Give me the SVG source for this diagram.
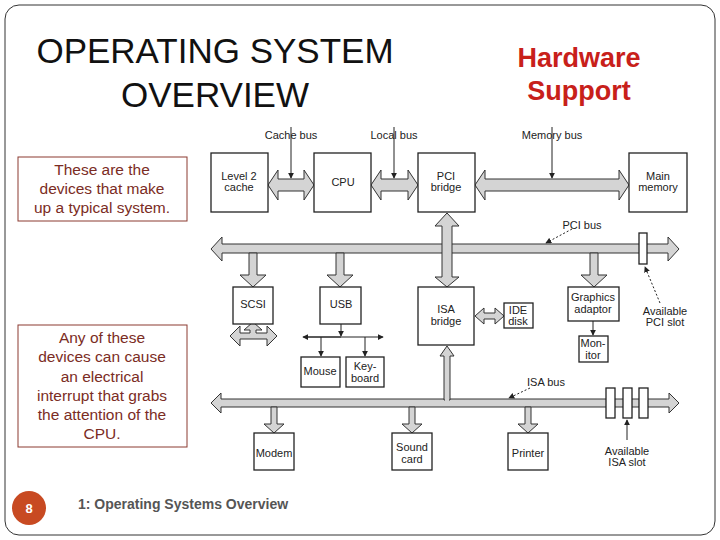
<svg xmlns="http://www.w3.org/2000/svg" width="720" height="540" viewBox="0 0 720 540">
<style>
.b{fill:#fff;stroke:#222;stroke-width:1.3}
.a{fill:#d4d4d4;stroke:#333;stroke-width:1}
.t{font-family:"Liberation Sans",Arial,sans-serif;font-size:11px;fill:#222;text-anchor:middle}
.n{fill:none;stroke:#222;stroke-width:1}
.d{fill:none;stroke:#222;stroke-width:1;stroke-dasharray:2,2}
.c{font-family:"Liberation Sans",Arial,sans-serif;font-size:15.5px;fill:#7b2c24;text-anchor:middle}
.tb{fill:#fff;stroke:#8b3a30;stroke-width:1}
</style>
<defs><marker id="m" viewBox="0 0 8 8" refX="7" refY="4" markerWidth="6" markerHeight="6" orient="auto"><path d="M0,0L8,4L0,8z" fill="#222"/></marker></defs>
<rect x="5" y="5" width="710" height="530" rx="14" fill="#fff" stroke="#333"/>
<text x="215" y="63" font-family="Liberation Sans,Arial,sans-serif" font-size="35" text-anchor="middle" fill="#111">OPERATING SYSTEM</text>
<text x="215" y="107" font-family="Liberation Sans,Arial,sans-serif" font-size="35" text-anchor="middle" fill="#111">OVERVIEW</text>
<text x="579" y="67" font-family="Liberation Sans,Arial,sans-serif" font-size="27" font-weight="bold" text-anchor="middle" fill="#c8201a">Hardware</text>
<text x="579" y="100" font-family="Liberation Sans,Arial,sans-serif" font-size="27" font-weight="bold" text-anchor="middle" fill="#c8201a">Support</text>
<g id="note1"><rect class="tb" x="18" y="157" width="169" height="64"/>
<text class="c" x="102" y="175">These are the</text><text class="c" x="102" y="194">devices that make</text><text class="c" x="102" y="213">up a typical system.</text></g>
<g id="note2"><rect class="tb" x="18" y="325" width="169" height="122"/>
<text class="c" x="102" y="343">Any of these</text><text class="c" x="102" y="362">devices can cause</text><text class="c" x="102" y="382">an electrical</text><text class="c" x="102" y="401">interrupt that grabs</text><text class="c" x="102" y="420">the attention of the</text><text class="c" x="102" y="439">CPU.</text></g>
<g id="footer"><circle cx="29" cy="508" r="17" fill="#c84a22"/><text x="29" y="513" font-family="Liberation Sans,Arial,sans-serif" font-size="13" font-weight="bold" fill="#fff" text-anchor="middle">8</text>
<text x="78" y="509" font-family="Liberation Sans,Arial,sans-serif" font-size="14" font-weight="bold" fill="#555">1: Operating Systems Overview</text></g>
<g id="connectors">
<polygon class="a" points="268,185 278,170 278,179 304,179 304,170 314,185 304,200 304,191 278,191 278,200"/>
<polygon class="a" points="371,185 381,170 381,179 408,179 408,170 418,185 408,200 408,191 381,191 381,200"/>
<polygon class="a" points="475,185 485,170 485,179 619,179 619,170 629,185 619,200 619,191 485,191 485,200"/>
<polygon class="a" points="211,249 222,237 222,244 668,244 668,237 679,249 668,261 668,253 222,253 222,261"/>
<polygon class="a" points="211,403 221,393 221,399 669,399 669,393 679,403 669,413 669,407 221,407 221,413"/>
<polygon class="a" points="447,213 459,226 452,226 452,277 459,277 447,287 435,277 442,277 442,226 435,226"/>
<polygon class="a" points="447,346 454,356 450,356 450,400 444,400 444,356 440,356"/>
<rect x="443" y="243" width="8" height="12" fill="#d4d4d4"/>
<rect x="445" y="398" width="4" height="6" fill="#d4d4d4"/>
<polygon class="a" points="249,253 257,253 257,275 266,275 253,287 240,275 249,275"/>
<polygon class="a" points="336,253 344,253 344,275 353,275 340,287 327,275 336,275"/>
<polygon class="a" points="590,253 598,253 598,275 607,275 594,287 581,275 590,275"/>
<polygon class="a" points="271,407 277,407 277,424 284,424 274,433 264,424 271,424"/>
<polygon class="a" points="409,407 415,407 415,424 422,424 412,433 402,424 409,424"/>
<polygon class="a" points="525,407 531,407 531,424 538,424 528,433 518,424 525,424"/>
<polygon class="a" points="230,336 240,326 240,333 250,333 250,330 244,330 253,322 262,330 256,330 256,333 267,333 267,326 277,336 267,346 267,339 240,339 240,346"/>
<polygon class="a" points="475,316 484,308 484,313 495,313 495,308 504,316 495,324 495,319 484,319 484,324"/>
<line class="n" x1="341" y1="324" x2="341" y2="336" marker-end="url(#m)"/>
<line class="n" x1="305" y1="337" x2="383" y2="337" marker-end="url(#m)"/>
<line class="n" x1="341" y1="337" x2="303" y2="337" marker-end="url(#m)"/>
<line class="n" x1="321" y1="337" x2="321" y2="356" marker-end="url(#m)"/>
<line class="n" x1="365" y1="337" x2="365" y2="356" marker-end="url(#m)"/>
<line class="n" x1="593" y1="321" x2="593" y2="335" marker-end="url(#m)"/>
<line class="n" x1="291" y1="127" x2="291" y2="178" marker-end="url(#m)"/>
<line class="n" x1="394" y1="127" x2="394" y2="178" marker-end="url(#m)"/>
<line class="n" x1="552" y1="127" x2="552" y2="178" marker-end="url(#m)"/>
<line class="d" x1="572" y1="229" x2="546" y2="243" marker-end="url(#m)"/>
<line class="d" x1="530" y1="388" x2="509" y2="398" marker-end="url(#m)"/>
<line class="d" x1="660" y1="303" x2="645" y2="267" marker-end="url(#m)"/>
<line class="n" x1="627" y1="440" x2="627" y2="420" marker-end="url(#m)"/>
<rect class="b" x="639" y="233" width="8" height="31"/>
<rect class="b" x="606" y="388" width="9" height="30"/>
<rect class="b" x="623" y="388" width="9" height="30"/>
<rect class="b" x="639" y="388" width="9" height="30"/>
</g>
<g class="t">
<text x="291" y="139">Cache bus</text><text x="394" y="139">Local bus</text><text x="552" y="139">Memory bus</text>
<text x="582" y="229">PCI bus</text><text x="546" y="386">ISA bus</text>
<text x="665" y="315">Available</text><text x="665" y="326">PCI slot</text>
<text x="627" y="455">Available</text><text x="627" y="466">ISA slot</text>
</g>
<g id="l2"><rect class="b" x="211" y="153" width="57" height="59"/><text class="t" x="239" y="180">Level 2</text><text class="t" x="239" y="191">cache</text></g>
<g id="cpu"><rect class="b" x="314" y="153" width="57" height="59"/><text class="t" x="343" y="186">CPU</text></g>
<g id="pci"><rect class="b" x="418" y="153" width="57" height="59"/><text class="t" x="446" y="180">PCI</text><text class="t" x="446" y="191">bridge</text></g>
<g id="mem"><rect class="b" x="629" y="153" width="58" height="59"/><text class="t" x="658" y="180">Main</text><text class="t" x="658" y="191">memory</text></g>
<g id="scsi"><rect class="b" x="233" y="287" width="40" height="37"/><text class="t" x="253" y="308">SCSI</text></g>
<g id="usb"><rect class="b" x="320" y="287" width="41" height="37"/><text class="t" x="341" y="308">USB</text></g>
<g id="isa"><rect class="b" x="418" y="287" width="56" height="58"/><text class="t" x="446" y="313">ISA</text><text class="t" x="446" y="325">bridge</text></g>
<g id="ide"><rect class="b" x="504" y="303" width="29" height="25"/><text class="t" x="518" y="314">IDE</text><text class="t" x="518" y="325">disk</text></g>
<g id="gfx"><rect class="b" x="568" y="287" width="51" height="34"/><text class="t" x="593" y="301">Graphics</text><text class="t" x="593" y="313">adaptor</text></g>
<g id="mon"><rect class="b" x="579" y="336" width="29" height="26"/><text class="t" x="593" y="347">Mon-</text><text class="t" x="593" y="359">itor</text></g>
<g id="mouse"><rect class="b" x="301" y="357" width="39" height="30"/><text class="t" x="320" y="375">Mouse</text></g>
<g id="kbd"><rect class="b" x="346" y="357" width="38" height="30"/><text class="t" x="365" y="370">Key-</text><text class="t" x="365" y="382">board</text></g>
<g id="modem"><rect class="b" x="254" y="433" width="40" height="37"/><text class="t" x="274" y="457">Modem</text></g>
<g id="sound"><rect class="b" x="392" y="433" width="40" height="37"/><text class="t" x="412" y="451">Sound</text><text class="t" x="412" y="463">card</text></g>
<g id="printer"><rect class="b" x="508" y="433" width="40" height="37"/><text class="t" x="528" y="457">Printer</text></g>
</svg>
